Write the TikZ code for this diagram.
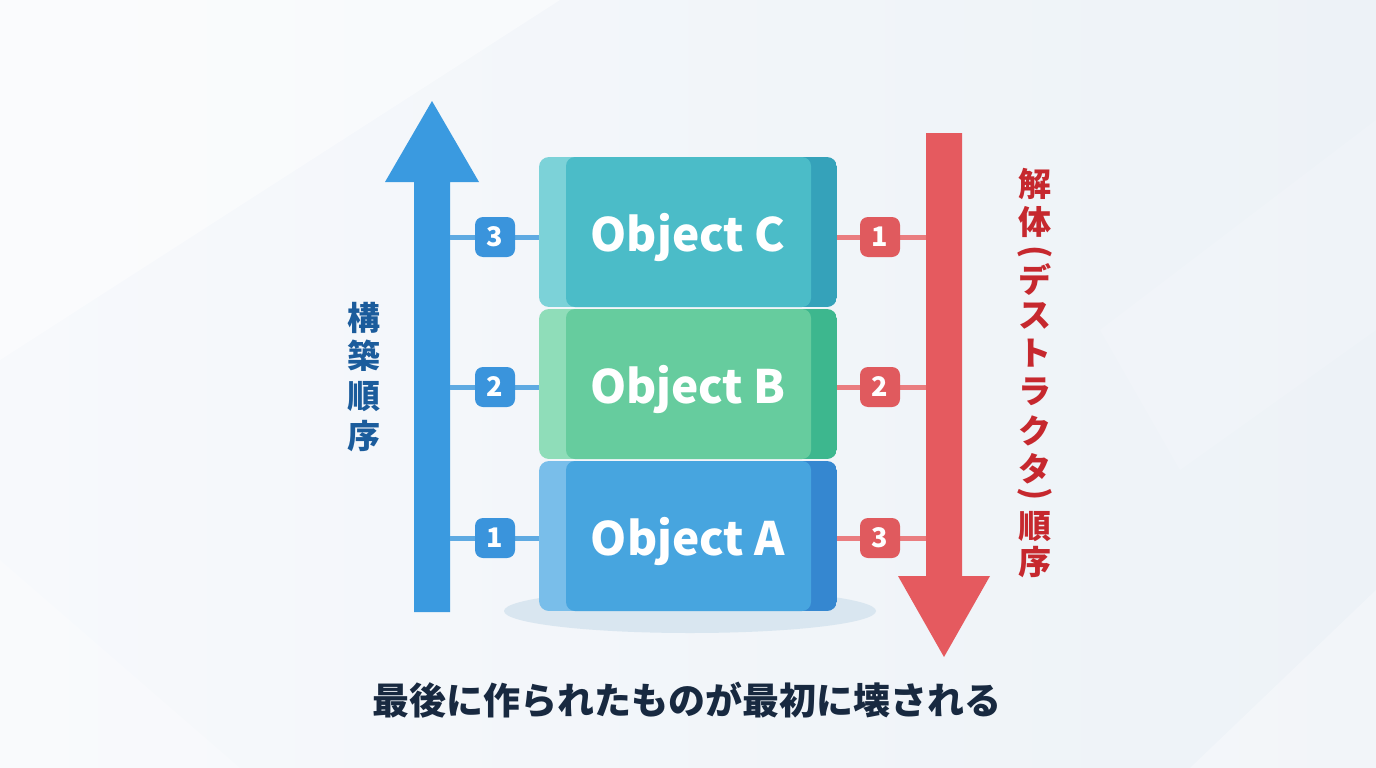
\documentclass[tikz,border=0pt]{standalone}
\usepackage{fontspec}
\setmainfont{Noto Sans CJK JP}
\usetikzlibrary{calc}
\definecolor{bgA}{HTML}{F7F9FC}
\definecolor{bgB}{HTML}{EDF2F7}
\definecolor{upblue}{HTML}{3A9AE0}
\definecolor{downred}{HTML}{E55A5F}
\definecolor{cMain}{HTML}{4BBCC8}
\definecolor{cLeft}{HTML}{7CD2D8}
\definecolor{cRight}{HTML}{35A2BA}
\definecolor{bMain}{HTML}{66CC9E}
\definecolor{bLeft}{HTML}{8FDDB9}
\definecolor{bRight}{HTML}{3DB78E}
\definecolor{aMain}{HTML}{47A5DF}
\definecolor{aLeft}{HTML}{79BEEA}
\definecolor{aRight}{HTML}{3587D0}
\definecolor{lbadge}{HTML}{3A94DC}
\definecolor{rbadge}{HTML}{E05A5E}
\definecolor{lline}{HTML}{5EAAE2}
\definecolor{rline}{HTML}{EA7D80}
\definecolor{ltext}{HTML}{1B5C9C}
\definecolor{rtext}{HTML}{C6282E}
\definecolor{btext}{HTML}{182940}
\definecolor{shadowc}{HTML}{D9E6F0}
\tikzset{
  objlabel/.style={inner sep=0pt, text=white, font=\fontsize{46}{50}\selectfont\bfseries},
  lbadgebox/.style={fill=lbadge, rounded corners=8pt, minimum width=40pt, minimum height=40pt, inner sep=0pt,
    text=white, font=\fontsize{27}{29}\selectfont\bfseries},
  rbadgebox/.style={lbadgebox, fill=rbadge},
  lconn/.style={draw=lline, line width=5pt},
  rconn/.style={draw=rline, line width=5pt},
  lvchar/.style={text=ltext, font=\fontsize{33}{36}\selectfont\bfseries, inner sep=0pt},
  rvchar/.style={text=rtext, font=\fontsize{33}{36}\selectfont\bfseries, inner sep=0pt},
}
\begin{document}
\begin{tikzpicture}[x=1pt,y=-1pt]
\useasboundingbox (0,0) rectangle (1376,768);
% background
\shade[left color=bgA, right color=bgB] (0,0) rectangle (1376,768);
\fill[white, opacity=0.45] (0,0) -- (560,0) -- (0,360) -- cycle;
\fill[white, opacity=0.15] (1376,120) -- (1376,330) -- (1180,470) -- (1100,330) -- cycle;
\fill[white, opacity=0.3] (1190,768) -- (1376,590) -- (1376,768) -- cycle;
\fill[white, opacity=0.25] (0,560) -- (240,768) -- (0,768) -- cycle;

% shadow
\fill[shadowc] (690,611) ellipse (186pt and 22pt);

% boxes
\foreach \cy/\mc/\lc/\rc in {232/cMain/cLeft/cRight, 384/bMain/bLeft/bRight, 536/aMain/aLeft/aRight}{
  \begin{scope}
    \clip[rounded corners=10pt] (539,\cy-75) rectangle (837,\cy+75);
    \fill[\lc] (539,\cy-75) rectangle (580,\cy+75);
    \fill[\rc] (790,\cy-75) rectangle (837,\cy+75);
    \fill[\mc, rounded corners=9pt] (566,\cy-75) rectangle (811,\cy+75);
  \end{scope}
}
\path (539,157) rectangle (837,307) node[midway, minimum width=298pt, minimum height=150pt] (objC) {};
\path (539,309) rectangle (837,459) node[midway, minimum width=298pt, minimum height=150pt] (objB) {};
\path (539,461) rectangle (837,611) node[midway, minimum width=298pt, minimum height=150pt] (objA) {};
\node[objlabel] at ($(objC.center)+(0,5)$) {Object C};
\node[objlabel] at ($(objB.center)+(0,5)$) {Object B};
\node[objlabel] at ($(objA.center)+(0,5)$) {Object A};

% arrows
\fill[upblue] (414,612) -- (414,182) -- (385,182) -- (432,101) -- (479,182) -- (450,182) -- (450,612) -- cycle;
\fill[downred] (926,133) -- (962,133) -- (962,576) -- (990,576) -- (944,657) -- (898,576) -- (926,576) -- cycle;
\coordinate (upC) at (450,237);
\coordinate (upB) at (450,387);
\coordinate (upA) at (450,538);
\coordinate (dnC) at (926,237);
\coordinate (dnB) at (926,387);
\coordinate (dnA) at (926,538);

% connectors (under badges)
\draw[lconn] (upC) -- (upC -| objC.west);
\draw[lconn] (upB) -- (upB -| objB.west);
\draw[lconn] (upA) -- (upA -| objA.west);
\draw[rconn] (dnC -| objC.east) -- (dnC);
\draw[rconn] (dnB -| objB.east) -- (dnB);
\draw[rconn] (dnA -| objA.east) -- (dnA);

% badges
\node[lbadgebox] (l3) at (495,237) {3};
\node[lbadgebox] (l2) at (495,387) {2};
\node[lbadgebox] (l1) at (495,538) {1};
\node[rbadgebox] (r1) at (880,237) {1};
\node[rbadgebox] (r2) at (880,387) {2};
\node[rbadgebox] (r3) at (880,538) {3};

% vertical labels
\foreach \ch/\yy in {構/318, 築/356, 順/397, 序/436}{
  \node[lvchar] at (364,\yy) {\ch};
}
\foreach \ch/\yy in {解/184, 体/222, デ/279, ス/316, ト/353, ラ/392, ク/431, タ/469, 順/527, 序/562}{
  \node[rvchar] at (1035,\yy) {\ch};
}
\node[rvchar, rotate=-90] (lparen) at (1035,252) {(};
\node[rvchar, rotate=-90] (rparen) at (1035,494) {)};

% bottom caption
\node[text=btext, font=\fontsize{37}{40}\selectfont\bfseries, inner sep=0pt] (caption) at (687,700) {最後に作られたものが最初に壊される};
\end{tikzpicture}
\end{document}
